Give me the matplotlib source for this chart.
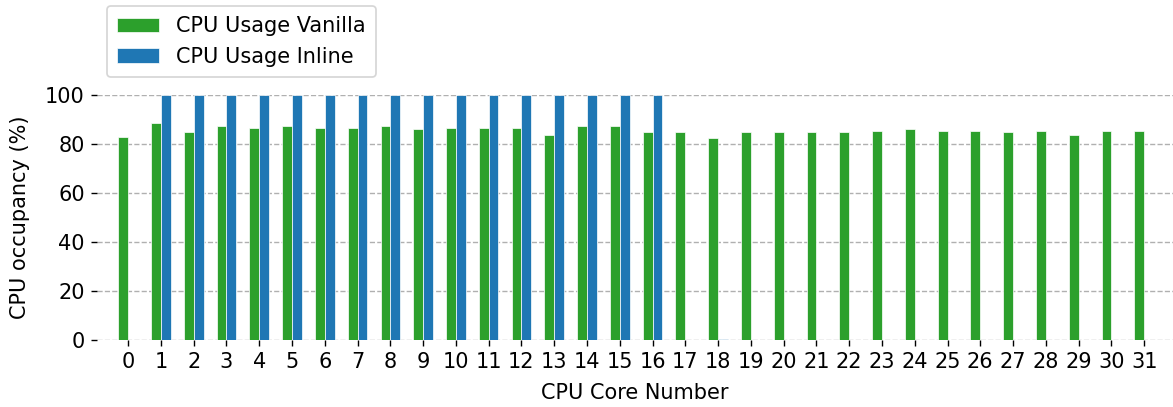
import numpy as np
import matplotlib
matplotlib.use("Agg")
import matplotlib.pyplot as plt

# ─── Dados ──────────────────────────────────────────
cores = list(range(32))
uso_vanilla = [83.0, 88.4, 84.7, 87.2, 86.7, 87.2, 86.7, 86.7, 87.2, 86.0,
               86.7, 86.7, 86.7, 83.5, 87.2, 87.2, 84.7, 84.7, 82.3, 84.7,
               84.7, 84.7, 84.7, 85.4, 86.0, 85.4, 85.4, 84.7, 85.4, 83.5,
               85.4, 85.4]
uso_inline = [0.0] + [100.0] * 16 + [0.0, 0.5] + [0.0] * 13

LARGURA = 0.3
DPI = 125
W, H = 1173, 407

fig = plt.figure(figsize=(W / DPI, H / DPI), dpi=DPI)
ax = fig.add_axes([97 / W, 1 - 340 / H, 1 - 97 / W, 245 / H])

x = np.arange(len(cores))
ax.bar(x - LARGURA / 2, uso_vanilla, LARGURA, color="#2ca02c",
       edgecolor="white", linewidth=0.4, label="CPU Usage Vanilla")
ax.bar(x + LARGURA / 2, uso_inline, LARGURA, color="#1f77b4",
       edgecolor="white", linewidth=0.4, label="CPU Usage Inline")

ax.set_xticks(x)
ax.set_xticklabels([str(c) for c in cores], fontsize=12)
ax.set_yticks([0, 20, 40, 60, 80, 100])
ax.tick_params(axis="y", labelsize=12)
ax.set_xlim(-0.95, 31.88)
ax.set_ylim(0, 100)

ax.set_xlabel("CPU Core Number", fontsize=12, labelpad=6.5)
ax.set_ylabel("CPU occupancy (%)", fontsize=12, labelpad=8.5)

for s in ax.spines.values():
    s.set_visible(False)
ax.grid(axis="y", linestyle="--", color="#b0b0b0", linewidth=0.8)
ax.set_axisbelow(True)

fig.legend(loc="lower left", bbox_to_anchor=(107 / W, 1 - 77 / H),
           fontsize=12, borderaxespad=0, borderpad=0.5)

fig.savefig("out.png", dpi=DPI)
